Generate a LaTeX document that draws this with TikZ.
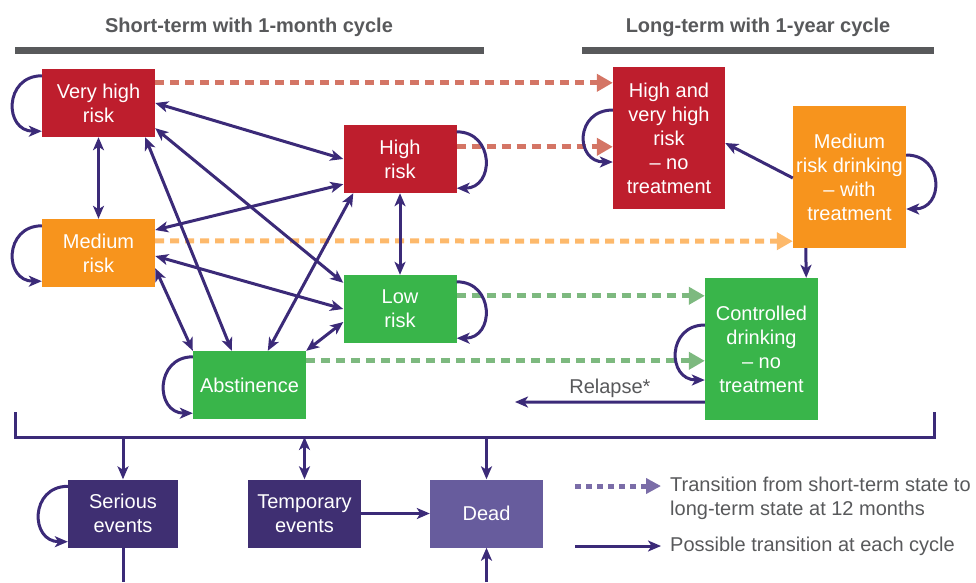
\documentclass[tikz,border=0pt]{standalone}
\usepackage{fontspec}
\setmainfont{Liberation Sans}
\usetikzlibrary{arrows.meta}
\definecolor{riskred}{HTML}{BE1E2D}
\definecolor{riskorange}{HTML}{F7941D}
\definecolor{riskgreen}{HTML}{39B54A}
\definecolor{evpurple}{HTML}{3F2F72}
\definecolor{deadpurple}{HTML}{675C9D}
\definecolor{arrowpurple}{HTML}{3B2A78}
\definecolor{headgray}{HTML}{58595B}
\definecolor{dashred}{HTML}{D47565}
\definecolor{dashorange}{HTML}{FDB96B}
\definecolor{dashgreen}{HTML}{7DB97F}
\definecolor{dashpurple}{HTML}{7B6DA8}
\tikzset{>={Stealth[length=13pt,width=11pt,inset=3.5pt]}}

\begin{document}
\begin{tikzpicture}[x=1pt,y=-1pt,
  state/.style={fill=#1,text=white,minimum width=113pt,minimum height=68pt,inner sep=1pt,align=center,font=\fontsize{20}{24}\selectfont},
  longstate/.style={state=#1,minimum height=142pt},
  head/.style={text=headgray,font=\fontsize{20}{24}\selectfont\bfseries},
  bar/.style={draw=headgray,line width=7pt},
  line/.style={draw=arrowpurple,line width=3pt},
  arr/.style={line,->},
  darr/.style={line,<->},
  trans/.style={draw=#1,line width=5pt,dash pattern=on 9pt off 6pt,-{Triangle[length=16pt,width=17pt]}},
  lloop/.style={out=180,in=180,distance=38pt},
  rloop/.style={out=0,in=0,distance=38pt},
  keytext/.style={anchor=west,inner sep=0pt,align=left,text=headgray,font=\fontsize{20}{24}\selectfont}]
\useasboundingbox (0,0) rectangle (976,582);
% headers
\node[head] (shorthead) at (249,27) {Short-term with 1-month cycle};
\node[head] (longhead) at (758,27) {Long-term with 1-year cycle};
\draw[bar] (15,50) -- (484,50);
\draw[bar] (582,50) -- (934,50);
% short-term states
\node[state=riskred] (vhigh) at (98.5,103) {Very high\\risk};
\node[state=riskorange] (medium) at (98.5,253) {Medium\\risk};
\node[state=riskred] (high) at (400,159) {High\\risk};
\node[state=riskgreen] (low) at (400,309) {Low\\risk};
\node[state=riskgreen] (abst) at (249.5,385) {Abstinence};
% long-term states
\node[longstate=riskred,minimum width=112pt] (hvh) at (669,138) {High and\\very high\\risk\\\textendash{} no\\treatment};
\node[longstate=riskorange] (mrd) at (849.5,177) {Medium\\risk drinking\\\textendash{} with\\treatment};
\node[longstate=riskgreen] (ctrl) at (761.5,349) {Controlled\\drinking\\\textendash{} no\\treatment};
% events
\node[state=evpurple,minimum width=110pt] (serious) at (123,513.5) {Serious\\events};
\node[state=evpurple] (temp) at (304.5,513.5) {Temporary\\events};
\node[state=deadpurple] (dead) at (486.5,513.5) {Dead};
% 12 month transitions
\draw[trans=dashred] ([yshift=-14pt]vhigh.north east) -- ([yshift=-16pt]hvh.north west);
\draw[trans=dashred] ([yshift=-22pt]high.north east) -- ([yshift=-80pt]hvh.north west);
\draw[trans=dashorange] ([yshift=-22pt]medium.north east) -- ([yshift=7pt]mrd.south west);
\draw[trans=dashgreen] ([yshift=-21pt]low.north east) -- ([yshift=-18pt]ctrl.north west);
\draw[trans=dashgreen] ([yshift=-10pt]abst.north east) -- ([yshift=-83pt]ctrl.north west);
% monthly transitions
\draw[darr] (vhigh.south) -- (medium.north);
\draw[darr] (vhigh.east) -- (high.west);
\draw[darr] ([yshift=9pt]vhigh.south east) -- ([yshift=-8pt]low.north west);
\draw[darr] ([xshift=-10pt]vhigh.south east) -- ([xshift=39pt]abst.north west);
\draw[darr] ([yshift=23pt]medium.east) -- ([yshift=9pt]high.south west);
\draw[darr] ([yshift=-3pt]medium.east) -- (low.west);
\draw[darr] ([yshift=19pt]medium.south east) -- (abst.north west);
\draw[darr] ([xshift=75pt]abst.north west) -- ([xshift=10pt]high.south west);
\draw[darr] (abst.north east) -- ([yshift=-13pt]low.west);
\draw[darr] (high.south) -- (low.north);
\draw[arr] ([yshift=-1pt]mrd.west) -- ([yshift=-5pt]hvh.east);
\draw[arr] ([xshift=13pt]mrd.south west) -- ([xshift=-12pt]ctrl.north east);
\coordinate (relapseend) at (515,402);
\draw[arr] ([yshift=18pt]ctrl.south west) -- (relapseend) node[midway,above,text=headgray,font=\fontsize{20}{24}\selectfont] (relapse) {Relapse*};
% self loops
\draw[arr] ([yshift=-7pt]vhigh.north west) to[lloop] ([yshift=6pt]vhigh.south west);
\draw[arr] ([yshift=-7pt]medium.north west) to[lloop] ([yshift=6pt]medium.south west);
\draw[arr] ([yshift=-6pt]abst.north west) to[lloop] ([yshift=6pt]abst.south west);
\draw[arr] ([yshift=-7pt]high.north east) to[rloop] ([yshift=5pt]high.south east);
\draw[arr] ([yshift=-7pt]low.north east) to[rloop] ([yshift=5pt]low.south east);
\draw[arr] ([yshift=28pt]hvh.west) to[lloop] ([yshift=-24pt]hvh.west);
\draw[arr] ([yshift=22pt]mrd.east) to[rloop] ([yshift=-32pt]mrd.east);
\draw[arr] ([yshift=24pt]ctrl.west) to[lloop] ([yshift=-31pt]ctrl.west);
\draw[arr] ([yshift=-7pt]serious.north west) to[lloop] ([yshift=6pt]serious.south west);
% bracket to events
\coordinate (brkl) at (15,412);
\coordinate (brkr) at (934,412);
\coordinate (brk) at (0,437);
\coordinate (bottom) at (0,582);
\draw[line] (brkl) |- (brk -| brkr) -- (brkr);
\draw[arr] (serious.north |- brk) -- (serious.north);
\draw[darr] (temp.north |- brk) -- (temp.north);
\draw[arr] (dead.north |- brk) -- (dead.north);
\draw[arr] (temp.east) -- (dead.west);
\draw[line] (serious.south) -- (serious.south |- bottom);
\draw[arr] (dead.south |- bottom) -- (dead.south);
% key
\coordinate (key1a) at (575,486);
\coordinate (key1b) at (661,486);
\coordinate (key2a) at (575,546);
\coordinate (key2b) at (661,546);
\draw[trans=dashpurple,dash pattern=on 6pt off 5pt,-{Triangle[length=15pt,width=15pt]}] (key1a) -- (key1b);
\draw[arr] (key2a) -- (key2b);
\node[keytext] (key1) at (670,498) {Transition from short-term state to\\long-term state at 12 months};
\node[keytext] (key2) at (670,546) {Possible transition at each cycle};
\end{tikzpicture}
\end{document}
